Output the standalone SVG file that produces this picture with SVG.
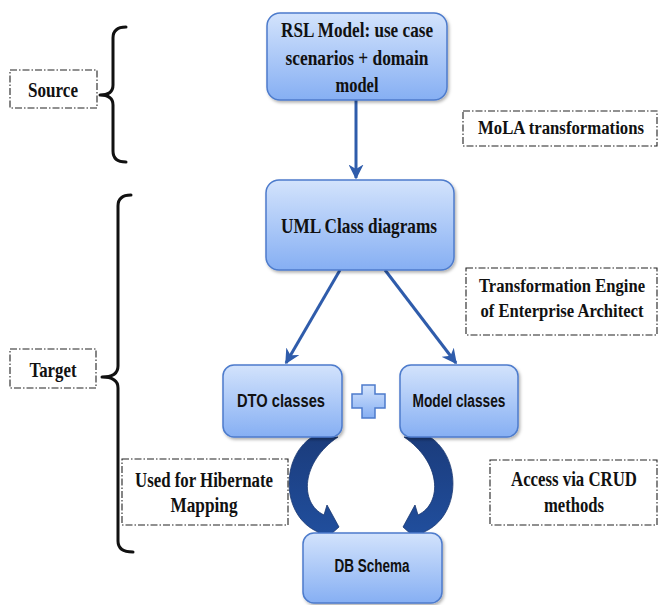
<svg xmlns="http://www.w3.org/2000/svg" width="662" height="605" viewBox="0 0 662 605">
  <defs>
    <linearGradient id="nodeFill" x1="0" y1="0" x2="0" y2="1">
      <stop offset="0" stop-color="#d3e3fc"/>
      <stop offset="1" stop-color="#86aff3"/>
    </linearGradient>
    <linearGradient id="curveFill" x1="0" y1="0" x2="0" y2="1">
      <stop offset="0" stop-color="#1b3c7c"/>
      <stop offset="1" stop-color="#2150a0"/>
    </linearGradient>
    <filter id="shadow" x="-10%" y="-10%" width="125%" height="130%">
      <feDropShadow dx="1.5" dy="2" stdDeviation="1.5" flood-color="#000" flood-opacity="0.3"/>
    </filter>
    <marker id="arrow" viewBox="0 0 10 10" refX="9" refY="5" markerWidth="5" markerHeight="5" orient="auto" markerUnits="strokeWidth">
      <path d="M0,0 L10,5 L0,10 L3,5 Z" fill="#2f5cab"/>
    </marker>
  </defs>
  <style>
    .node { fill: url(#nodeFill); stroke: #4d7bcc; stroke-width: 1.5; filter: url(#shadow); }
    .serif { font-family: "Liberation Serif", "Times New Roman", serif; font-weight: bold; fill: #111; }
    .sans { font-family: "Liberation Sans", Arial, sans-serif; font-weight: bold; fill: #111; }
    .note { fill: #fff; stroke: #222; stroke-width: 1.1; stroke-dasharray: 7 2 1.5 2; }
    .brace { fill: none; stroke: #111; stroke-width: 3; stroke-linecap: round; stroke-linejoin: round; }
    .link { stroke: #2f5cab; stroke-width: 3; fill: none; marker-end: url(#arrow); }
    .curve { fill: url(#curveFill); stroke: #183670; stroke-width: 0.8; }
  </style>

  <!-- braces and side labels -->
  <g id="source-label">
    <path class="brace" d="M126,27 Q113,27 113,38 L113,85 Q113,95 100,95 Q113,95 113,105 L113,151 Q113,162 126,162"/>
    <rect class="note" x="10" y="70" width="87" height="38"/>
    <text class="serif" x="53" y="97" font-size="21" text-anchor="middle" textLength="50" lengthAdjust="spacingAndGlyphs">Source</text>
  </g>
  <g id="target-label">
    <path class="brace" d="M131,195 Q118,195 118,206 L118,366 Q118,377 102,377 Q118,377 118,388 L118,541 Q118,552 133,552"/>
    <rect class="note" x="10" y="349" width="86" height="39"/>
    <text class="serif" x="53" y="377" font-size="21" text-anchor="middle" textLength="47" lengthAdjust="spacingAndGlyphs">Target</text>
  </g>

  <!-- connectors -->
  <g id="connectors">
    <line class="link" x1="356" y1="100" x2="356" y2="178"/>
    <line class="link" x1="340" y1="270" x2="286" y2="363"/>
    <line class="link" x1="385" y1="270" x2="456" y2="363"/>
    <path class="curve" d="M312,437 C280,458 281,516 318,532 L320,544 L339,527 L327,505 L324,515 C299,503 301,462 338,437 Z"/>
    <path class="curve" transform="translate(742,0) scale(-1,1)" d="M312,437 C280,458 281,516 318,532 L320,544 L339,527 L327,505 L324,515 C299,503 301,462 338,437 Z"/>
  </g>

  <!-- nodes -->
  <g id="rsl-model">
    <rect class="node" x="267" y="13" width="180" height="87" rx="13"/>
    <text class="serif" x="357" y="37" font-size="21" text-anchor="middle" textLength="152" lengthAdjust="spacingAndGlyphs">RSL Model: use case</text>
    <text class="serif" x="357" y="65" font-size="21" text-anchor="middle" textLength="143" lengthAdjust="spacingAndGlyphs">scenarios + domain</text>
    <text class="serif" x="357" y="92" font-size="21" text-anchor="middle" textLength="43" lengthAdjust="spacingAndGlyphs">model</text>
  </g>
  <g id="uml-class">
    <rect class="node" x="266" y="180" width="188" height="90" rx="13"/>
    <text class="serif" x="359" y="233" font-size="21" text-anchor="middle" textLength="156" lengthAdjust="spacingAndGlyphs">UML  Class diagrams</text>
  </g>
  <g id="dto-classes">
    <rect class="node" x="223" y="365" width="119" height="72" rx="11"/>
    <text class="sans" x="281" y="407" font-size="18" text-anchor="middle" textLength="88" lengthAdjust="spacingAndGlyphs">DTO classes</text>
  </g>
  <g id="plus">
    <path d="M362,385 H375 V394 H385 V408 H375 V418 H362 V408 H352 V394 H362 Z" fill="url(#nodeFill)" stroke="#4d7bcc" stroke-width="1.5"/>
  </g>
  <g id="model-classes">
    <rect class="node" x="400" y="365" width="118" height="72" rx="11"/>
    <text class="sans" x="459" y="407" font-size="18" text-anchor="middle" textLength="93" lengthAdjust="spacingAndGlyphs">Model classes</text>
  </g>
  <g id="db-schema">
    <rect class="node" x="303" y="533" width="139" height="70" rx="11"/>
    <text class="sans" x="372" y="572" font-size="18" text-anchor="middle" textLength="75" lengthAdjust="spacingAndGlyphs">DB Schema</text>
  </g>

  <!-- annotations -->
  <g id="mola-note">
    <rect class="note" x="463" y="111" width="194" height="35"/>
    <text class="serif" x="561" y="134" font-size="18" text-anchor="middle" textLength="166" lengthAdjust="spacingAndGlyphs">MoLA transformations</text>
  </g>
  <g id="ea-note">
    <rect class="note" x="466" y="268" width="191" height="67"/>
    <text class="serif" x="562" y="292" font-size="18" text-anchor="middle" textLength="166" lengthAdjust="spacingAndGlyphs">Transformation Engine</text>
    <text class="serif" x="562" y="317" font-size="18" text-anchor="middle" textLength="163" lengthAdjust="spacingAndGlyphs">of Enterprise  Architect</text>
  </g>
  <g id="hibernate-note">
    <rect class="note" x="122" y="459" width="166" height="66"/>
    <text class="serif" x="204" y="487" font-size="20" text-anchor="middle" textLength="138" lengthAdjust="spacingAndGlyphs">Used for Hibernate</text>
    <text class="serif" x="204" y="512" font-size="20" text-anchor="middle" textLength="67" lengthAdjust="spacingAndGlyphs">Mapping</text>
  </g>
  <g id="crud-note">
    <rect class="note" x="490" y="460" width="167" height="65"/>
    <text class="serif" x="574" y="486" font-size="20" text-anchor="middle" textLength="126" lengthAdjust="spacingAndGlyphs">Access via CRUD</text>
    <text class="serif" x="574" y="512" font-size="20" text-anchor="middle" textLength="60" lengthAdjust="spacingAndGlyphs">methods</text>
  </g>
</svg>
